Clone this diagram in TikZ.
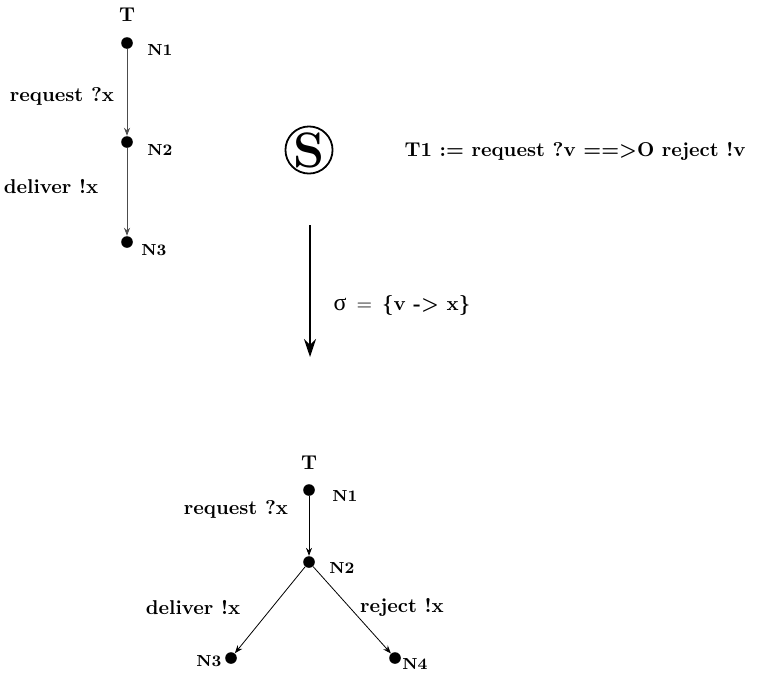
\documentclass[tikz,border=0pt]{standalone}
\usepackage{amsmath,amssymb}
\usepackage{fontspec}
\newfontfamily\greekfont{Liberation Serif}
\usepackage{tikz}
\usetikzlibrary{arrows.meta}

\begin{document}
\begin{tikzpicture}[x=0.5pt,y=-0.5pt,
  dot/.style={circle,fill=black,inner sep=0pt,minimum size=5.8pt},
  nlbl/.style={font=\footnotesize\bfseries},
  lbl/.style={font=\bfseries},
  edge/.style={-{Stealth[length=4pt,width=3pt]},line width=0.4pt}]
\useasboundingbox (0,0) rectangle (763,675);
% upper tree
\node[lbl] (ta) at (127,15) {T};
\node[dot] (a1) at (127,43) {};
\node[dot] (a2) at (127,142) {};
\node[dot] (a3) at (127,242) {};
\node[nlbl] at (160,50) {N1};
\node[nlbl] at (160,150) {N2};
\node[nlbl] at (154,250) {N3};
\draw[edge,black!70] (a1) -- (a2);
\draw[edge,black!70] (a2) -- (a3);
\node[lbl] (ra) at (62,96) {request ?x};
\node[lbl] (da) at (51,187) {deliver !x};
% rule
\node[draw,circle,line width=0.9pt,inner sep=0pt,minimum size=22pt,font=\Huge\bfseries] (s) at (309,150) {S};
\node[lbl] (rule) at (575,151) {T1 := request ?v ==>O reject !v};
% substitution
\coordinate (top) at (310,225);
\coordinate (bot) at (310,357);
\draw[-{Stealth[length=9pt,width=6pt]},line width=1pt] (top) -- (bot);
\node (sig) at (402,305) {{\greekfont\large σ} \,=\, \textbf{\{v -> x\}}};
% lower tree
\node[lbl] (tb) at (309,463) {T};
\node[dot] (b1) at (309,490) {};
\node[dot] (b2) at (309,562) {};
\node[dot] (b3) at (231,658) {};
\node[dot] (b4) at (395,658) {};
\node[nlbl] at (345,496) {N1};
\node[nlbl] at (342,568) {N2};
\node[nlbl] at (209,661) {N3};
\node[nlbl] at (415,664) {N4};
\draw[edge] (b1) -- (b2);
\draw[edge] (b2) -- (b3);
\draw[edge] (b2) -- (b4);
\node[lbl] (rb) at (236,509) {request ?x};
\node[lbl] (db) at (193,607) {deliver !x};
\node[lbl] (jb) at (402,607) {reject !x};
\end{tikzpicture}
\end{document}
